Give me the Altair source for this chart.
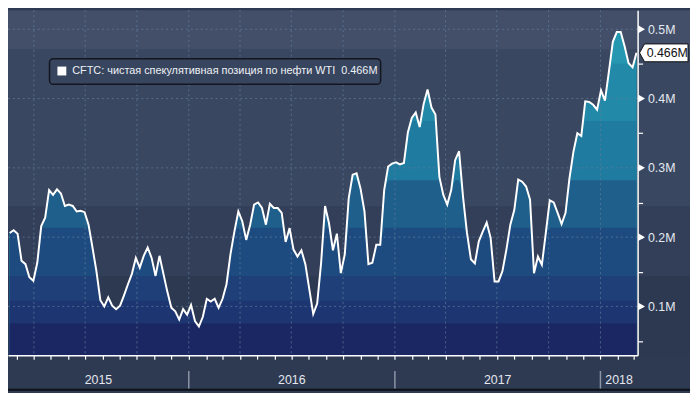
import altair as alt
import pandas as pd

# ---------------- data ----------------
start_date = "2015-02-17"          # first weekly observation (Tuesday)
net_position_k = [
    206, 210, 205, 166, 161, 142, 137, 163, 216, 228,
    268, 261, 269, 263, 245, 247, 245, 237, 238, 236,
    218, 185, 151, 109, 100, 113, 101, 96, 101, 116,
    132, 147, 170, 156, 173, 185, 170, 144, 173, 147,
    121, 98, 93, 81, 96, 88, 102, 79, 71, 85,
    111, 107, 111, 98, 111, 132, 175, 208, 237, 223,
    196, 218, 247, 250, 242, 218, 248, 242, 242, 235,
    193, 213, 182, 172, 181, 161, 125, 89, 104, 163,
    245, 220, 181, 205, 148, 175, 256, 290, 292, 270,
    237, 161, 163, 189, 189, 268, 302, 306, 308, 305,
    307, 351, 372, 380, 359, 392, 413, 387, 377, 287,
    261, 247, 268, 311, 324, 258, 206, 168, 162, 194,
    208, 221, 199, 136, 136, 151, 182, 218, 239, 283,
    280, 273, 254, 148, 172, 160, 206, 253, 250, 235,
    219, 235, 285, 323, 350, 346, 396, 395, 391, 384,
    412, 397, 439, 482, 496, 496, 475, 451, 445, 466,
]
y_ticks_major = [0.1, 0.2, 0.3, 0.4, 0.5]
y_ticks_all = [0.05, 0.1, 0.15, 0.2, 0.25, 0.3, 0.35, 0.4, 0.45, 0.5]
year_labels = ["2015", "2016", "2017", "2018"]
series_name = "CFTC: чистая спекулятивная позиция по нефти WTI"

# ---------------- layout / style ----------------
W, H = 637, 349
RIGHT_PAD, BOTTOM_PAD = 53, 36
Y_MIN, Y_MAX = 0.0296, 0.5275
X_START = pd.Timestamp("2015-02-14")
X_END = pd.Timestamp("2018-03-08")
FONT = "Liberation Sans"
BOTTOM_BG = "#2e3a52"

bg_bands = [  # (top, bottom, colour) in value units
    (Y_MAX, 0.4705, "#434f69"),
    (0.4705, 0.2437, "#3a4761"),
    (0.2437, 0.1438, "#333f59"),
    (0.1438, Y_MIN, "#2d3951"),
]
area_bands = [  # upper cut, colour  (drawn from top to bottom)
    (None, "#2597b1"),
    (0.4505, "#228aa8"),
    (0.3678, "#207ba0"),
    (0.2822, "#1f5f8b"),
    (0.2137, "#1e4b7f"),
    (0.1438, "#1e3f77"),
    (0.1081, "#1d3570"),
    (0.0753, "#1b2762"),
]

# ---------------- tables ----------------
dates = pd.date_range(start_date, periods=len(net_position_k), freq="7D")
df = pd.DataFrame({
    "date": dates.strftime("%Y-%m-%d"),
    "v": [k / 1000 for k in net_position_k],
})
last_v = df["v"].iloc[-1]
last_df = pd.DataFrame({"date": [df["date"].iloc[-1]], "v": [last_v],
                        "label": [f"{last_v:.3f}M"]})

bg_df = pd.DataFrame(bg_bands, columns=["top", "bottom", "color"])
ytick_df = pd.DataFrame({"t": y_ticks_major})

quarters = pd.date_range("2015-04-01", "2018-01-01", freq="QS")
q_df = pd.DataFrame({"date": quarters.strftime("%Y-%m-%d")})

year_starts = [pd.Timestamp(f"{y}-01-01") for y in year_labels]
seg_lo = [max(X_START, s) for s in year_starts]
seg_hi = [min(X_END, pd.Timestamp(f"{int(y) + 1}-01-01")) for y in year_labels]
mids = [lo + (hi - lo) / 2 for lo, hi in zip(seg_lo, seg_hi)]
year_df = pd.DataFrame({"date": [m.strftime("%Y-%m-%dT%H:%M:%SZ") for m in mids],
                        "label": year_labels})
sep_df = pd.DataFrame({"date": [s.strftime("%Y-%m-%d") for s in year_starts[1:]]})

# ---------------- scales ----------------
xscale = alt.Scale(type="utc", domain=[
    alt.DateTime(year=2015, month=2, date=14, utc=True),
    alt.DateTime(year=2018, month=3, date=8, utc=True)])
yscale = alt.Scale(domain=[Y_MIN, Y_MAX], zero=False, nice=False)

X = alt.X("date:T", scale=xscale, axis=None)

# bottom strip behind the time axis
bottom_bg = alt.Chart(last_df).mark_rect(fill=BOTTOM_BG).encode(
    x=alt.value(0), x2=alt.value(W + RIGHT_PAD), y=alt.value(H), y2=alt.value(H + BOTTOM_PAD))

# background bands (extend into the right axis area)
bg = alt.Chart(bg_df).mark_rect().encode(
    y=alt.Y("top:Q", scale=yscale, axis=None),
    y2="bottom:Q",
    x=alt.value(0), x2=alt.value(W + RIGHT_PAD),
    color=alt.Color("color:N", scale=None),
)

# stepped-colour area
areas = []
for cut, col in area_bands:
    expr = "datum.v" if cut is None else f"min(datum.v, {cut})"
    areas.append(
        alt.Chart(df).transform_calculate(yv=expr).mark_area(color=col, opacity=1, clip=True).encode(
            x=X,
            y=alt.Y("yv:Q", scale=yscale, axis=None),
            y2=alt.value(H),
        )
    )

grid_color = "#5d7c9b"
hgrid = alt.Chart(ytick_df).mark_rule(color=grid_color, strokeDash=[2, 3], strokeWidth=1, opacity=0.75).encode(
    y=alt.Y("t:Q", scale=yscale, axis=None), x=alt.value(0), x2=alt.value(W))
vgrid = alt.Chart(q_df).mark_rule(color=grid_color, strokeDash=[2, 3], strokeWidth=1, opacity=0.75).encode(
    x=X, y=alt.value(0), y2=alt.value(H))

line = alt.Chart(df).mark_line(color="white", strokeWidth=2, clip=True).encode(
    x=alt.X("date:T", scale=xscale, axis=alt.Axis(
        title=None, labels=False, grid=False, orient="bottom",
        tickCount={"interval": "month", "step": 1},
        tickColor="white", tickSize=4, tickWidth=1.2,
        domainColor="white", domainWidth=1.5, zindex=1)),
    y=alt.Y("v:Q", scale=yscale, axis=alt.Axis(
        title=None, orient="right", values=y_ticks_all, grid=False,
        labelExpr="round(datum.value*100) % 10 == 0 ? format(datum.value, '.1f') + 'M' : ''",
        tickColor="white", tickSize=5, tickWidth=1.2,
        domainColor="white", domainWidth=1.5,
        labelColor="#e4e8ef", labelFont=FONT, labelFontSize=12.5, labelPadding=5,
        zindex=1)),
)

tick_marks = alt.Chart(ytick_df).mark_point(shape="triangle-right", filled=True, size=64,
                                            color="white", opacity=1).encode(
    y=alt.Y("t:Q", scale=yscale, axis=None), x=alt.value(W + 4))

year_text = alt.Chart(year_df).mark_text(font=FONT, fontSize=12.5, color="#e4e8ef",
                                         align="center", baseline="middle").encode(
    x=X, y=alt.value(H + 25), text="label:N")
year_sep = alt.Chart(sep_df).mark_rule(color="#8c95a5", strokeWidth=1.5).encode(
    x=X, y=alt.value(H + 16), y2=alt.value(H + 34))

# legend box
legend_box = alt.Chart(last_df).mark_rect(fill="#38455f", stroke="#12161e", strokeWidth=1.5,
                                          cornerRadius=4).encode(
    x=alt.value(42), x2=alt.value(377), y=alt.value(49), y2=alt.value(75))
legend_sq = alt.Chart(last_df).mark_rect(fill="white").encode(
    x=alt.value(50), x2=alt.value(59), y=alt.value(57), y2=alt.value(66))
legend_txt = alt.Chart(last_df).transform_calculate(
    t=f"'{series_name} \u00a0' + datum.label").mark_text(
    font=FONT, fontSize=11, color="#eef1f5", align="left", baseline="middle").encode(
    x=alt.value(65), y=alt.value(62), text="t:N")

# last value badge
badge = alt.Chart(last_df).mark_point(
    shape="M-1.23,0L-1,-0.41L1,-0.41L1,0.41L-1,0.41Z", filled=True, fill="white",
    stroke="#111111", strokeWidth=1, size=1936, opacity=1).encode(
    y=alt.Y("v:Q", scale=yscale, axis=None), x=alt.value(666))
badge_txt = alt.Chart(last_df).mark_text(font=FONT, fontSize=12.5, color="#111111",
                                         align="center", baseline="middle").encode(
    y=alt.Y("v:Q", scale=yscale, axis=None), x=alt.value(667), text="label:N")

bottom_line = alt.Chart(last_df).mark_rule(color="#0d1016", strokeWidth=2).encode(
    x=alt.value(0), x2=alt.value(W + RIGHT_PAD), y=alt.value(H + 35))

chart = alt.layer(
    bottom_bg, bg, *areas, hgrid, vgrid, line, tick_marks, year_sep, year_text,
    legend_box, legend_sq, legend_txt, badge, badge_txt, bottom_line,
).resolve_axis(x="independent", y="independent").properties(
    width=W, height=H,
    autosize=alt.AutoSizeParams(type="none"),
    padding={"left": 0, "top": 0, "right": RIGHT_PAD, "bottom": BOTTOM_PAD},
    background=BOTTOM_BG,
).configure_view(stroke=None)

chart.save("out.html", embed_options={"renderer": "svg", "actions": False})
